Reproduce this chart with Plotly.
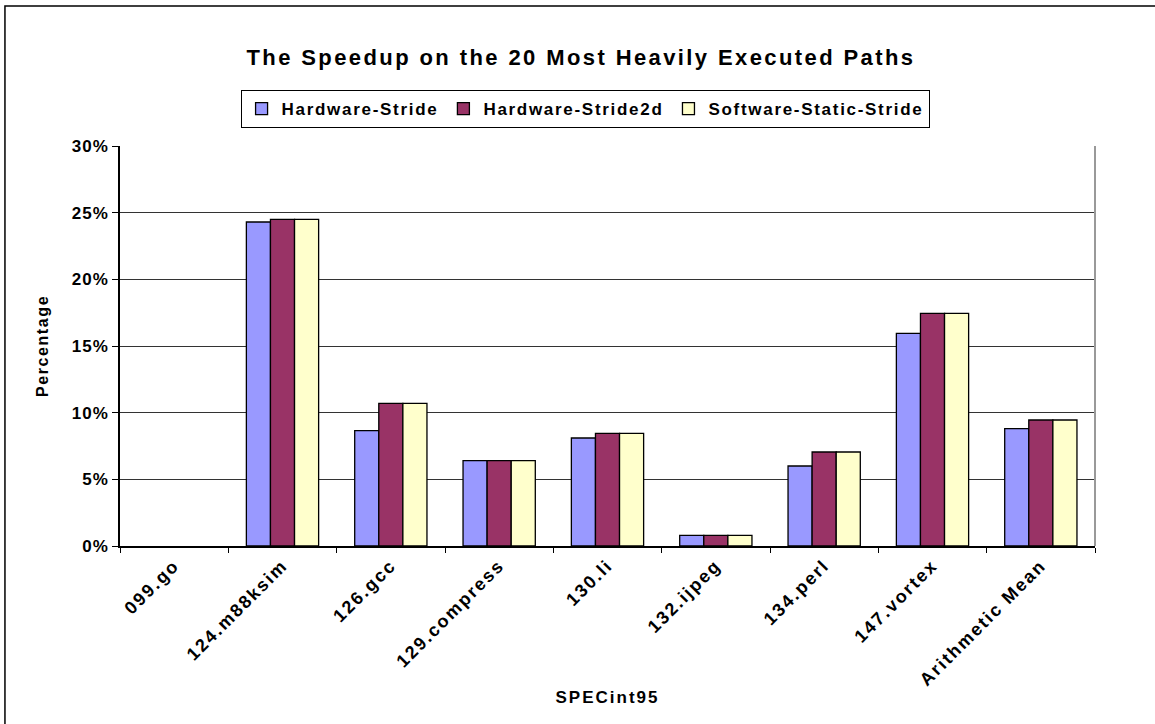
import plotly.graph_objects as go

# SPECint95 benchmarks and speedups (%) on the 20 hottest paths;
# 099.go has no bar in any series
benchmarks = ["099.go", "124.m88ksim", "126.gcc", "129.compress", "130.li",
              "132.ijpeg", "134.perl", "147.vortex", "Arithmetic Mean"]
hardware_stride = [None, 24.3, 8.65, 6.4, 8.1, 0.8, 6.0, 15.95, 8.8]
hardware_stride2d = [None, 24.5, 10.7, 6.4, 8.45, 0.8, 7.05, 17.45, 9.45]
software_static_stride = [None, 24.5, 10.7, 6.4, 8.45, 0.8, 7.05, 17.45, 9.45]

series = [
    ("Hardware-Stride", hardware_stride, "#9999FF"),
    ("Hardware-Stride2d", hardware_stride2d, "#993366"),
    ("Software-Static-Stride", software_static_stride, "#FFFFCC"),
]

FONT = "Liberation Sans, Arial, sans-serif"

fig = go.Figure()
for name, vals, color in series:
    fig.add_trace(go.Bar(
        name=name, x=benchmarks, y=vals,
        marker=dict(color=color, line=dict(color="black", width=1.3)),
    ))

fig.update_layout(
    width=1155, height=724,
    margin=dict(l=120, r=60, t=146, b=178),
    paper_bgcolor="white", plot_bgcolor="white",
    barmode="group", bargap=0.333, bargroupgap=0,
    font=dict(family=FONT, color="black", size=15, weight="bold"),
    title=dict(
        text="<b>The Speedup on the 20 Most Heavily Executed Paths</b>",
        x=0.503, xref="container", xanchor="center",
        y=0.921, yref="container", yanchor="middle",
        font=dict(size=22, family=FONT, color="black"),
    ),
    legend=dict(
        orientation="h", x=0.477, xanchor="center", y=1.14, yanchor="top",
        bordercolor="black", borderwidth=1, bgcolor="white",
        font=dict(size=17, family=FONT, color="black", weight="bold"),
        itemwidth=30, traceorder="normal", tracegroupgap=0,
    ),
    xaxis=dict(
        type="category", tickson="boundaries", ticks="outside", ticklen=5,
        tickcolor="black", showline=True, linecolor="black", linewidth=1.5,
        showgrid=False, tickangle=-45,
        tickfont=dict(size=18, family=FONT, color="black", weight="bold"),
        title=dict(text="<b>SPECint95</b>", standoff=24,
                   font=dict(size=17, family=FONT, color="black")),
    ),
    yaxis=dict(
        range=[0, 30], dtick=5, ticksuffix="%", ticks="outside", ticklen=6,
        tickcolor="black", showline=True, linecolor="black", linewidth=1.5,
        showgrid=True, gridcolor="#333333", gridwidth=1.2, zeroline=False,
        tickfont=dict(size=17, family=FONT, color="black", weight="bold"),
        title=dict(text="<b>Percentage</b>", standoff=22,
                   font=dict(size=16, family=FONT, color="black")),
    ),
    shapes=[
        # outer chart frame
        dict(type="rect", xref="paper", yref="paper",
             x0=-0.118, x1=1.1, y0=-0.6, y1=1.35,
             line=dict(color="black", width=1.5), layer="below"),
        # right edge of plot area
        dict(type="line", xref="paper", yref="paper",
             x0=1, x1=1, y0=0, y1=1,
             line=dict(color="#999999", width=2)),
    ],
)

# loose letter spacing for the chart's text; the legend is re-laid out
# afterwards so its box is sized with the spaced text
spacing_css = (
    "text.gtitle{letter-spacing:2.4px}"
    "text.legendtext{letter-spacing:1.7px}"
    ".xtick text{letter-spacing:2px}"
    ".ytick text{letter-spacing:1px}"
    "text.xtitle{letter-spacing:2px}"
    "text.ytitle{letter-spacing:1.6px}"
)
post = (
    "var st=document.createElement('style');"
    "st.textContent='" + spacing_css + "';"
    "document.head.appendChild(st);"
    "var gd=document.getElementById('{plot_id}');"
    "Plotly.relayout(gd,{'legend.font.size':17.01});"
)

fig.write_html("out.html", post_script=post)
